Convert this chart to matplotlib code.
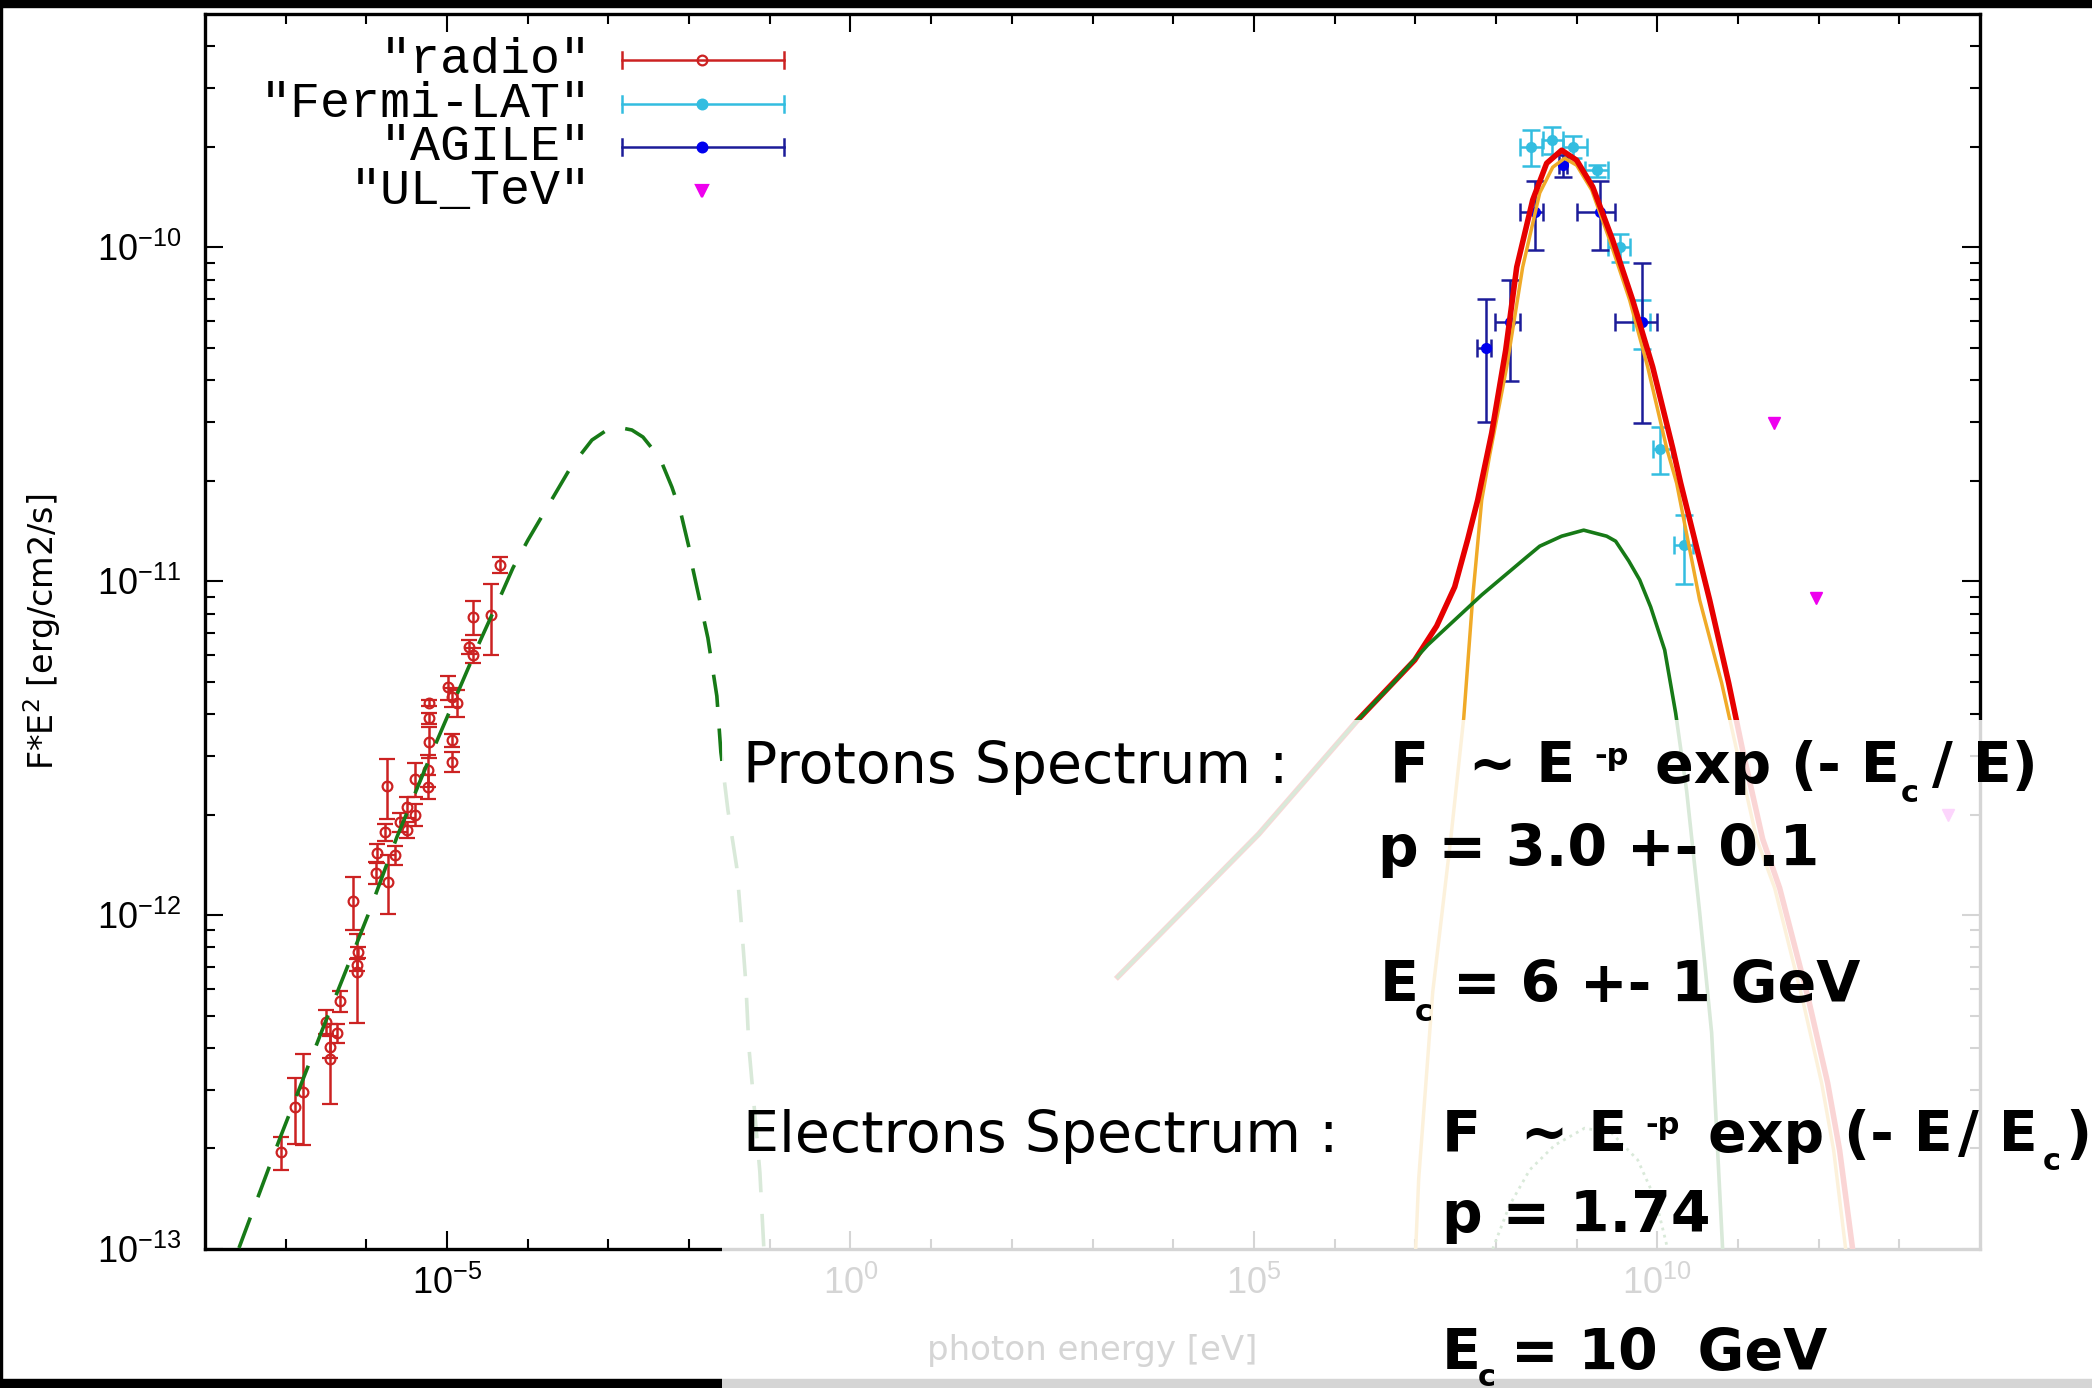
import numpy as np
import matplotlib
matplotlib.use('Agg')
import matplotlib.pyplot as plt
from matplotlib.patches import Rectangle
from matplotlib.ticker import FixedLocator, FuncFormatter, NullFormatter

# radio points
radio_E = [4.5e-5, 2.1e-5, 3.5e-5, 1.87e-5, 2.1e-5, 1.03e-5, 1.15e-5, 1.33e-5, 5.97e-6, 5.97e-6,
           5.97e-6, 1.15e-5, 1.15e-5, 4.0e-6, 1.8e-6, 5.8e-6, 5.8e-6, 3.18e-6, 4.0e-6, 2.6e-6,
           1.7e-6, 3.18e-6, 1.35e-6, 2.26e-6, 1.31e-6, 1.85e-6, 6.8e-7, 7.9e-7, 7.65e-7, 7.65e-7,
           4.7e-7, 3.15e-7, 4.3e-7, 3.54e-7, 3.54e-7, 1.64e-7, 1.3e-7, 8.75e-8]
radio_F = [1.12e-11, 7.8e-12, 7.9e-12, 6.35e-12, 6.0e-12, 4.82e-12, 4.5e-12, 4.32e-12, 4.32e-12, 3.89e-12,
           3.30e-12, 3.34e-12, 2.88e-12, 2.56e-12, 2.44e-12, 2.72e-12, 2.42e-12, 2.11e-12, 2.0e-12, 1.90e-12,
           1.77e-12, 1.80e-12, 1.53e-12, 1.51e-12, 1.34e-12, 1.26e-12, 1.10e-12, 7.75e-13, 7.1e-13, 6.76e-13,
           5.53e-13, 4.79e-13, 4.43e-13, 4.03e-13, 3.71e-13, 2.95e-13, 2.66e-13, 1.95e-13]
radio_err = [0.6e-12, 0.9e-12, 1.9e-12, 0.3e-12, 0.3e-12, 0.4e-12, 0.3e-12, 0.4e-12, 0.1e-12, 0.15e-12,
             0.35e-12, 0.15e-12, 0.2e-12, 0.3e-12, 0.5e-12, 0.3e-12, 0.2e-12, 0.15e-12, 0.15e-12, 0.12e-12,
             0.1e-12, 0.1e-12, 0.1e-12, 0.1e-12, 0.1e-12, 0.25e-12, 0.2e-12, 0.3e-13, 0.3e-13, 2.0e-13,
             0.4e-13, 0.4e-13, 0.3e-13, 0.3e-13, 1.0e-13, 0.9e-13, 0.6e-13, 0.22e-13]

# Fermi-LAT
fermi_E = [2.70e8, 4.91e8, 8.95e8, 1.77e9, 3.42e9, 6.41e9, 1.07e10, 2.12e10]
fermi_Emin = [1.97e8, 3.8e8, 6.7e8, 1.26e9, 2.43e9, 4.96e9, 8.8e9, 1.6e10]
fermi_Emax = [3.70e8, 6.7e8, 1.33e9, 2.43e9, 4.55e9, 8.05e9, 1.51e10, 2.75e10]
fermi_F = [2.0e-10, 2.10e-10, 2.0e-10, 1.70e-10, 1.0e-10, 5.97e-11, 2.49e-11, 1.28e-11]
fermi_err = [0.25e-10, 0.2e-10, 0.15e-10, 0.07e-10, 0.095e-10, 1.0e-11, 0.4e-11, 0.3e-11]

# AGILE
agile_E = [7.48e7, 1.48e8, 3.03e8, 6.73e8, 1.93e9, 6.41e9]
agile_Emin = [5.8e7, 9.66e7, 1.97e8, 6.0e8, 1.0e9, 2.97e9]
agile_Emax = [8.6e7, 1.97e8, 3.8e8, 7.5e8, 2.97e9, 9.85e9]
agile_F = [4.99e-11, 5.97e-11, 1.28e-10, 1.76e-10, 1.28e-10, 5.97e-11]
agile_err = [2.0e-11, 2.0e-11, 0.3e-10, 0.13e-10, 0.3e-10, 3.0e-11]

# TeV upper limits
ul_E = [2.77e11, 9.4e11, 3.97e13]
ul_F = [2.98e-11, 8.9e-12, 2.0e-12]

# model curves, log10 values
sync_logE = [-7.579, -7.071, -6.823, -6.513, -6.240, -5.980, -5.621, -5.175, -4.630, -4.320, -4.183,
             -3.998, -3.465, -3.204, -3.031, -2.895, -2.709, -2.572, -2.362, -2.213, -2.102, -2.002,
             -1.953, -1.767, -1.656, -1.606, -1.519, -1.408, -1.346, -1.296, -1.259, -1.185, -1.123, -1.073]
sync_logF = [-12.997, -12.668, -12.515, -12.323, -12.158, -12.000, -11.766, -11.506, -11.200, -11.035, -10.960,
             -10.877, -10.658, -10.577, -10.549, -10.538, -10.547, -10.568, -10.631, -10.718, -10.796, -10.898,
             -10.963, -11.170, -11.344, -11.512, -11.685, -11.859, -12.045, -12.206, -12.395, -12.596, -12.769,
             -13.0]

brems_logE = [3.314, 5.061, 6.275, 6.709, 7.155, 7.824, 8.369, 8.543, 8.815, 9.088, 9.373, 9.484, 9.646,
              9.782, 9.918, 10.092, 10.228, 10.364, 10.525, 10.674, 10.810]
brems_logF = [-12.185, -11.757, -11.419, -11.310, -11.191, -11.041, -10.930, -10.895, -10.865, -10.847,
              -10.865, -10.880, -10.939, -10.996, -11.077, -11.206, -11.395, -11.628, -11.991, -12.353, -13.0]

total_logE = [3.314, 5.061, 6.275, 6.994, 7.266, 7.489, 7.651, 7.774, 7.948, 8.121, 8.258, 8.456, 8.629,
              8.815, 9.001, 9.200, 9.447, 9.695, 9.943, 10.191, 10.290, 10.649, 10.885, 11.058, 11.306,
              11.517, 11.876, 12.112, 12.260, 12.421]
total_logF = [-12.185, -11.757, -11.419, -11.236, -11.134, -11.017, -10.874, -10.757, -10.556, -10.308,
              -10.059, -9.858, -9.748, -9.709, -9.739, -9.819, -9.978, -10.158, -10.358, -10.601, -10.706,
              -11.056, -11.305, -11.506, -11.772, -11.919, -12.254, -12.503, -12.704, -13.0]

pion_logE = [7.006, 7.043, 7.217, 7.440, 7.601, 7.713, 7.824, 7.923, 8.134, 8.332, 8.543, 8.704, 8.853,
             9.001, 9.187, 9.410, 9.658, 9.881, 10.116, 10.240, 10.525, 10.798, 10.984, 11.232, 11.455,
             11.802, 12.037, 12.186, 12.335]
pion_logF = [-13.0, -12.790, -12.230, -11.772, -11.410, -11.047, -10.757, -10.622, -10.358, -10.059,
             -9.837, -9.760, -9.733, -9.754, -9.828, -9.978, -10.158, -10.358, -10.601, -10.706, -11.056,
             -11.305, -11.506, -11.772, -11.919, -12.254, -12.503, -12.704, -13.0]

ic_logE = [7.960, 8.171, 8.419, 8.729, 9.100, 9.435, 9.757, 9.980, 10.129]
ic_logF = [-13.0, -12.868, -12.763, -12.689, -12.638, -12.653, -12.733, -12.853, -13.0]

legend_names = ['"radio"', '"Fermi-LAT"', '"AGILE"', '"UL_TeV"']
y_major = [1e-13, 1e-12, 1e-11, 1e-10]
x_major = [1e-5, 1e0, 1e5, 1e10]

c_radio = '#cc2222'
c_fermi = '#33bde0'
c_agile = '#1c1c99'
c_agile_pt = '#0000ee'
c_ul = '#ee00ee'
c_green = '#177a17'
c_red = '#e60000'
c_orange = '#f0aa28'

W, H = 2092, 1388


def fx(x):
    return x / W


def fy(y):
    return 1 - y / H


fig = plt.figure(figsize=(W / 100, H / 100), dpi=100)
ax = fig.add_axes([fx(205), fy(1249), (1980 - 205) / W, (1249 - 14) / H])
ax.set_xscale('log')
ax.set_yscale('log')

# data
ax.errorbar(radio_E, radio_F, yerr=radio_err, fmt='o', ms=7, mfc='none', mec=c_radio, mew=1.6,
            ecolor=c_radio, elinewidth=1.8, capsize=6, capthick=1.8, zorder=3)
ax.errorbar(fermi_E, fermi_F, yerr=fermi_err,
            xerr=[np.array(fermi_E) - np.array(fermi_Emin), np.array(fermi_Emax) - np.array(fermi_E)],
            fmt='o', ms=7, color=c_fermi, ecolor=c_fermi, elinewidth=1.8, capsize=6.5, capthick=1.8, zorder=3)
ax.errorbar(agile_E, agile_F, yerr=agile_err,
            xerr=[np.array(agile_E) - np.array(agile_Emin), np.array(agile_Emax) - np.array(agile_E)],
            fmt='o', ms=7, color=c_agile_pt, ecolor=c_agile, elinewidth=1.8, capsize=6.5, capthick=1.8, zorder=3)
ax.plot(ul_E, ul_F, 'v', ms=8, color=c_ul, zorder=3)

# models
ax.plot(10 ** np.array(pion_logE), 10 ** np.array(pion_logF), color=c_orange, lw=2.5, zorder=4,
        solid_joinstyle='round')
ax.plot(10 ** np.array(total_logE), 10 ** np.array(total_logF), color=c_red, lw=4.0, zorder=5,
        solid_joinstyle='round')
ax.plot(10 ** np.array(brems_logE), 10 ** np.array(brems_logF), color=c_green, lw=2.6, zorder=6,
        solid_joinstyle='round')
ax.plot(10 ** np.array(sync_logE), 10 ** np.array(sync_logF), color=c_green, lw=2.6,
        dashes=(9, 6), zorder=6)
ax.plot(10 ** np.array(ic_logE), 10 ** np.array(ic_logF), color=c_green, lw=2.0, ls=':', zorder=6)

ax.set_xlim(1e-8, 1e14)
ax.set_ylim(1e-13, 5e-10)

fmt = FuncFormatter(lambda v, p: r'$\mathdefault{10^{%d}}$' % int(round(np.log10(v))))
ax.xaxis.set_major_locator(FixedLocator(x_major))
ax.xaxis.set_minor_locator(FixedLocator([10.0 ** k for k in range(-7, 14) if k % 5 != 0]))
ax.yaxis.set_major_locator(FixedLocator(y_major))
ax.yaxis.set_minor_locator(FixedLocator([m * v for v in y_major for m in range(2, 10) if m * v < 5e-10]))
ax.xaxis.set_major_formatter(fmt)
ax.yaxis.set_major_formatter(fmt)
ax.xaxis.set_minor_formatter(NullFormatter())
ax.yaxis.set_minor_formatter(NullFormatter())
ax.tick_params(which='both', direction='in', top=True, right=True, width=1.5,
               labelsize=26, labelfontfamily='Liberation Sans')
ax.tick_params(which='major', length=13)
ax.tick_params(which='minor', length=7)
ax.tick_params(axis='x', pad=12)
ax.tick_params(axis='y', pad=17)
for s in ax.spines.values():
    s.set_linewidth(2.4)

# gnuplot style key
rows = [0.9628, 0.9271, 0.8923, 0.8567]
styles = [(c_radio, c_radio, 'o', 'none'), (c_fermi, c_fermi, 'o', c_fermi),
          (c_agile, c_agile_pt, 'o', c_agile_pt), (None, c_ul, 'v', c_ul)]
x0, x1, xm, d = 0.2349, 0.3262, 0.2800, 0.0068
for name, yk, (lc, mc, mk, mf) in zip(legend_names, rows, styles):
    ax.text(0.2175, yk, name, transform=ax.transAxes, ha='right', va='center',
            fontsize=36, family='Liberation Mono')
    if lc is not None:
        ax.plot([x0, x1], [yk, yk], color=lc, lw=1.8, transform=ax.transAxes, clip_on=False)
        for xc in (x0, x1):
            ax.plot([xc, xc], [yk - d, yk + d], color=lc, lw=1.8, transform=ax.transAxes, clip_on=False)
    ax.plot([xm], [yk], mk, color=mc, mec=mc, mfc=mf, ms=7 if mk == 'o' else 8, mew=1.6,
            transform=ax.transAxes, clip_on=False)

fig.text(fx(1092), fy(1360), 'photon energy [eV]', ha='center', va='baseline', fontsize=24.5)
fig.text(fx(42), fy(632), r'F*E$^2$ [erg/cm2/s]', ha='center', va='center', rotation=90, fontsize=24)

# frame bands
fig.patches.append(Rectangle((0, fy(7)), 1, 7 / H, transform=fig.transFigure, color='black', zorder=4))
fig.patches.append(Rectangle((0, 0), 2 / W, 1, transform=fig.transFigure, color='black', zorder=4))
fig.patches.append(Rectangle((0, 0), 1, 9 / H, transform=fig.transFigure, color='black', zorder=4))

# white veil behind the annotation
fig.patches.append(Rectangle((fx(722), 0), 1 - fx(722), 1 - 720 / H, transform=fig.transFigure,
                             facecolor='white', edgecolor='none', alpha=0.84, zorder=5))

fig.text(fx(743), fy(783), 'Protons Spectrum :', fontsize=41, va='baseline', zorder=7)
fig.text(fx(743), fy(1152), 'Electrons Spectrum :', fontsize=41, va='baseline', zorder=7)

pieces = [
    ('F  ~ E', 1390, 783, 41), ('-p', 1594, 765, 22), ('exp (- E', 1655, 783, 41),
    ('c', 1901, 802, 22), ('/ E)', 1932, 783, 41),
    ('p = 3.0 +- 0.1', 1378, 866, 41),
    ('E', 1380, 1002, 41), ('c', 1415, 1021, 22), ('= 6 +- 1 GeV', 1453, 1002, 41),
    ('F  ~ E', 1442, 1152, 41), ('-p', 1645, 1134, 22), ('exp (- E', 1708, 1152, 41),
    ('/ E', 1958, 1152, 41), ('c', 2043, 1170, 22), (')', 2065, 1152, 41),
    ('p = 1.74', 1442, 1232, 41),
    ('E', 1442, 1370, 41), ('c', 1478, 1386, 22), ('= 10  GeV', 1511, 1370, 41),
]
for s, x, y, size in pieces:
    fig.text(fx(x), fy(y), s, fontsize=size, fontweight='bold', va='baseline', zorder=7)

fig.savefig('out.png', dpi=100)
